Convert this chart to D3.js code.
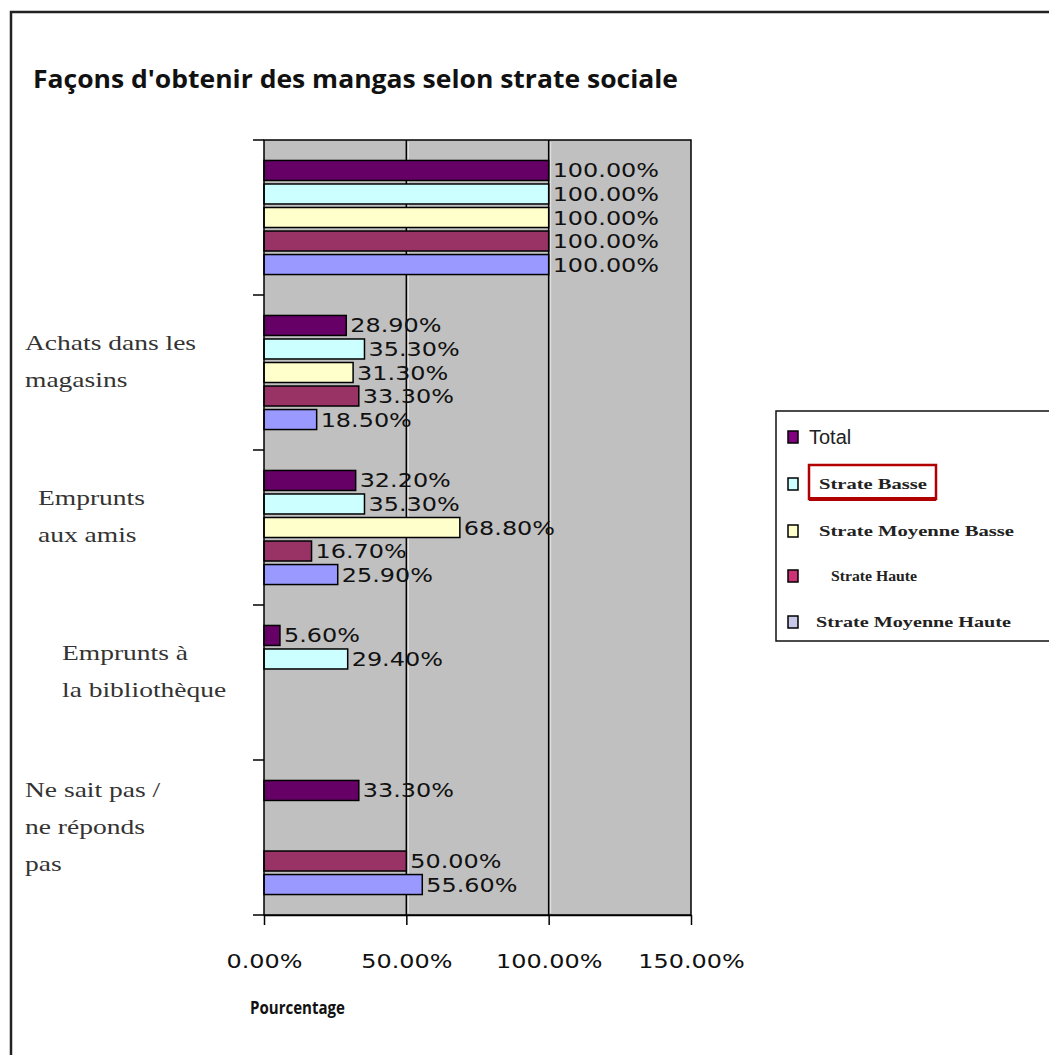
<!DOCTYPE html>
<html><head><meta charset="utf-8">
<script src="https://cdn.jsdelivr.net/npm/d3@7"></script>
<style>html,body{margin:0;padding:0;background:#fff;}svg{display:block;}</style>
</head><body>
<script>
// ---- data ----
const categories = ["", "Achats dans les magasins", "Emprunts aux amis", "Emprunts à la bibliothèque", "Ne sait pas / ne réponds pas"];
const categoryLines = [[], ["Achats dans les", "magasins"], ["Emprunts", "aux amis"], ["Emprunts à", "la bibliothèque"], ["Ne sait pas /", "ne réponds", "pas"]];
const series = ["Total", "Strate Basse", "Strate Moyenne Basse", "Strate Haute", "Strate Moyenne Haute"];
const total    = [100, 28.9, 32.2, 5.6, 33.3];
const basse    = [100, 35.3, 35.3, 29.4, null];
const moyBasse = [100, 31.3, 68.8, null, null];
const haute    = [100, 33.3, 16.7, null, 50.0];
const moyHaute = [100, 18.5, 25.9, null, 55.6];
const xTicks = [0, 50, 100, 150];
const titleText = "Façons d'obtenir des mangas selon strate sociale";
const xTitle = "Pourcentage";

// ---- style ----
const colors = ["#660066", "#CCFFFF", "#FFFFCC", "#993366", "#9999FF"];
const legendColors = ["#800080", "#CCFFFF", "#FFFFCC", "#CC3377", "#C8C8E8"];
const labelIndent = [0, 25, 38, 62, 25];
const W = 1049, H = 1055;

const values = [total, basse, moyBasse, haute, moyHaute];

const svg = d3.select("body").append("svg").attr("width", W).attr("height", H);

// outer frame (top + left)
svg.append("path").attr("d", `M11,${H} V12 H${W}`).attr("fill", "none").attr("stroke", "#222").attr("stroke-width", 2.5);

// title
svg.append("text").attr("x", 33).attr("y", 88).text(titleText)
  .attr("font-family", "Open Sans, sans-serif").attr("font-weight", "bold").attr("font-size", 25)
  .attr("textLength", 645).attr("lengthAdjust", "spacingAndGlyphs").attr("fill", "#111");

// scales
const x = d3.scaleLinear().domain([0, 150]).range([264, 691]);
const y = d3.scaleBand().domain(d3.range(categories.length)).range([140, 915]).padding(0);
const ys = d3.scaleBand().domain(d3.range(series.length)).range([0, y.bandwidth()]).paddingInner(0.15).paddingOuter(0.87);

// plot background
svg.append("rect").attr("x", x(0)).attr("y", y.range()[0]).attr("width", x(150) - x(0)).attr("height", y.range()[1] - y.range()[0])
  .attr("fill", "#C0C0C0");

// gridlines
const grid = xTicks.filter(d => d > 0 && d < 150);
svg.append("g").selectAll("line").data(grid).join("line")
  .attr("x1", d => x(d)).attr("x2", d => x(d)).attr("y1", y.range()[0]).attr("y2", y.range()[1])
  .attr("stroke", "#000").attr("stroke-width", 1.5);
svg.append("g").selectAll("line").data(grid).join("line")
  .attr("x1", d => x(d) + 2).attr("x2", d => x(d) + 2).attr("y1", y.range()[0] + 2).attr("y2", y.range()[1] - 2)
  .attr("stroke", "#e6e6e6").attr("stroke-width", 1);

// bars
const flat = [];
categories.forEach((c, ci) => series.forEach((s, si) => {
  const v = values[si][ci];
  if (v != null) flat.push({ ci, si, v });
}));
const fmt = v => v.toFixed(2) + "%";
const g = svg.append("g");
g.selectAll("rect").data(flat).join("rect")
  .attr("x", x(0)).attr("y", d => y(d.ci) + ys(d.si))
  .attr("width", d => x(d.v) - x(0)).attr("height", ys.bandwidth())
  .attr("fill", d => colors[d.si]).attr("stroke", "#000").attr("stroke-width", 1.5);

// data labels
g.selectAll("text").data(flat).join("text")
  .attr("x", d => x(d.v) + 4).attr("y", d => y(d.ci) + ys(d.si) + ys.bandwidth() / 2 + 7)
  .text(d => fmt(d.v))
  .attr("font-family", "DejaVu Sans, sans-serif").attr("font-size", 19)
  .attr("textLength", d => fmt(d.v).length * 15.2).attr("lengthAdjust", "spacingAndGlyphs")
  .attr("fill", "#111");

// plot border
svg.append("rect").attr("x", x(0)).attr("y", y.range()[0]).attr("width", x(150) - x(0)).attr("height", y.range()[1] - y.range()[0])
  .attr("fill", "none").attr("stroke", "#000").attr("stroke-width", 1.5);

// left axis with boundary ticks
const bounds = categories.map((c, i) => y(i)).concat([y.range()[1]]);
svg.append("g").selectAll("line").data(bounds).join("line")
  .attr("x1", x(0) - 11).attr("x2", x(0)).attr("y1", d => d).attr("y2", d => d)
  .attr("stroke", "#000").attr("stroke-width", 1.5);

// bottom axis
const ax = svg.append("g").attr("transform", `translate(0,${y.range()[1]})`)
  .call(d3.axisBottom(x).tickValues(xTicks).tickFormat(fmt).tickSize(10).tickPadding(30).tickSizeOuter(0));
ax.select(".domain").attr("stroke", "#000").attr("stroke-width", 1.5);
ax.selectAll(".tick line").attr("stroke", "#000").attr("stroke-width", 1.5);
ax.selectAll(".tick text").attr("font-family", "DejaVu Sans, sans-serif").attr("font-size", 19).attr("fill", "#111")
  .attr("textLength", d => fmt(d).length * 15.2).attr("lengthAdjust", "spacingAndGlyphs");

// x title
svg.append("text").attr("x", 250).attr("y", 1014).text(xTitle)
  .attr("font-family", "Open Sans, sans-serif").attr("font-weight", "bold").attr("font-size", 18)
  .attr("textLength", 95).attr("lengthAdjust", "spacingAndGlyphs").attr("fill", "#111");

// category labels
const lineGap = 37;
categoryLines.forEach((lines, ci) => {
  const cy = y(ci) + y.bandwidth() / 2 - 11;
  const start = cy - (lines.length - 1) * lineGap / 2;
  lines.forEach((ln, li) => {
    const t = svg.append("text").attr("x", labelIndent[ci]).attr("y", start + li * lineGap + 7).text(ln)
      .attr("font-family", "Liberation Serif, serif").attr("font-size", 22).attr("fill", "#333");
    const w = t.node().getComputedTextLength();
    t.attr("textLength", w * 1.25).attr("lengthAdjust", "spacingAndGlyphs");
  });
});

// legend
const lg = svg.append("g");
lg.append("rect").attr("x", 776).attr("y", 411).attr("width", 300).attr("height", 230)
  .attr("fill", "#fff").attr("stroke", "#111").attr("stroke-width", 1.5);
const legY = [437, 484, 531, 576, 622];
const legX = [809, 819, 819, 831, 816];
const legW = [0, 108, 195, 86, 195];
series.forEach((s, i) => {
  lg.append("rect").attr("x", 788).attr("y", legY[i] - 6).attr("width", 10).attr("height", 12)
    .attr("fill", legendColors[i]).attr("stroke", "#000").attr("stroke-width", 1.5);
  const t = lg.append("text").attr("x", legX[i]).text(s).attr("fill", "#222");
  if (i === 0) {
    t.attr("y", legY[i] + 7).attr("font-family", "Liberation Sans, Arial, sans-serif").attr("font-size", 20);
  } else {
    t.attr("y", legY[i] + 5).attr("font-family", "Liberation Serif, serif").attr("font-weight", "bold").attr("font-size", 15)
      .attr("textLength", legW[i]).attr("lengthAdjust", "spacingAndGlyphs");
  }
});
// red highlight around "Strate Basse"
lg.append("rect").attr("x", 809).attr("y", 465).attr("width", 127).attr("height", 34)
  .attr("fill", "none").attr("stroke", "#B00000").attr("stroke-width", 2.5);
lg.append("line").attr("x1", 809).attr("x2", 936).attr("y1", 499).attr("y2", 499)
  .attr("stroke", "#B00000").attr("stroke-width", 4);
</script>
</body></html>
